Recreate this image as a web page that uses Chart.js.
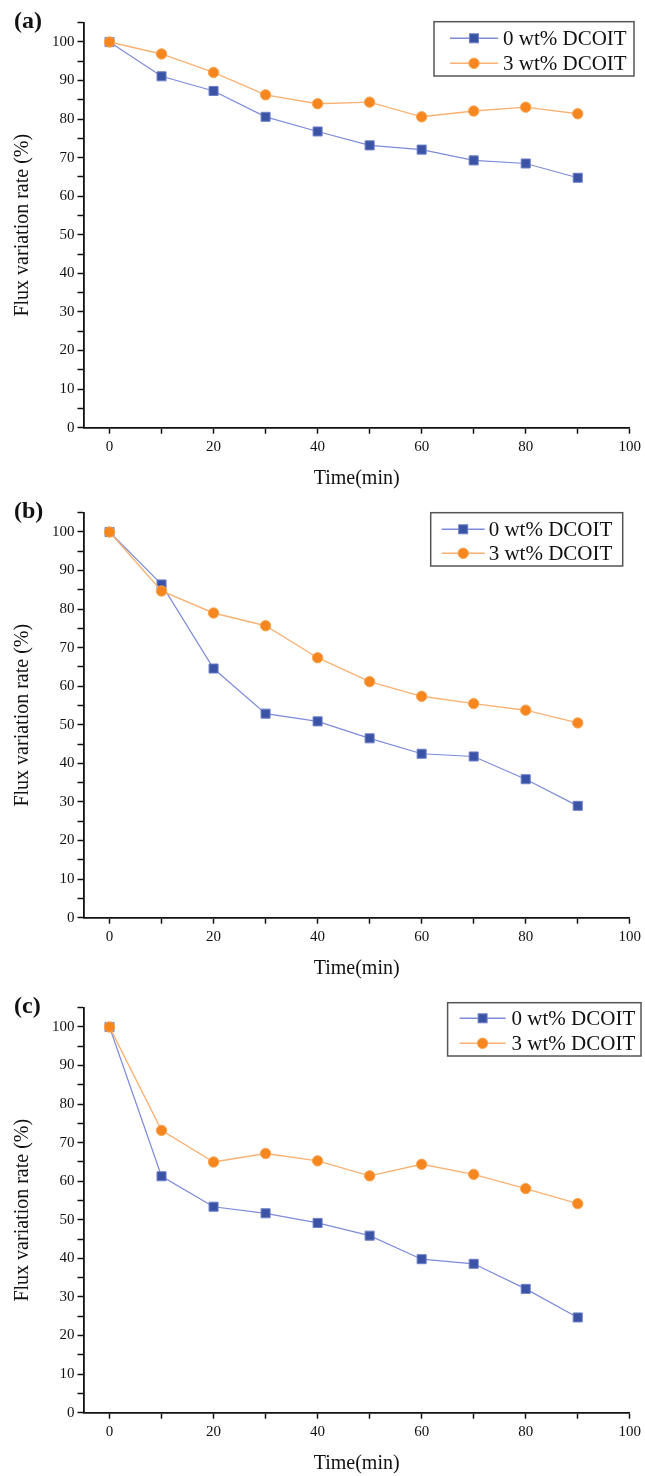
<!DOCTYPE html>
<html>
<head>
<meta charset="utf-8">
<script src="https://cdn.jsdelivr.net/npm/chart.js@4/dist/chart.umd.min.js"></script>
<style>
  html, body { margin: 0; padding: 0; background: #fff; }
  body { width: 645px; height: 1476px; position: relative; overflow: hidden; }
  .panel { position: absolute; left: 0; width: 645px; height: 490px; }
</style>
</head>
<body>
<div class="panel" style="top:0px"><canvas id="chartA" width="645" height="490"></canvas></div>
<div class="panel" style="top:490px"><canvas id="chartB" width="645" height="490"></canvas></div>
<div class="panel" style="top:985px"><canvas id="chartC" width="645" height="490"></canvas></div>
<script>
// time points (min)
const times = [0, 10, 20, 30, 40, 50, 60, 70, 80, 90];

// flux variation rate (%)
const fluxA0 = [100, 91.1, 87.3, 80.6, 76.8, 73.2, 72.1, 69.3, 68.5, 64.8];
const fluxA3 = [100, 96.9, 92.1, 86.3, 84.0, 84.4, 80.6, 82.1, 83.1, 81.4];
const fluxB0 = [100, 86.4, 64.6, 52.9, 50.9, 46.5, 42.5, 41.8, 35.9, 29.0];
const fluxB3 = [100, 84.7, 79.0, 75.7, 67.4, 61.2, 57.4, 55.5, 53.8, 50.5];
const fluxC0 = [100, 61.3, 53.4, 51.7, 49.2, 45.9, 39.8, 38.6, 32.1, 24.7];
const fluxC3 = [100, 73.2, 65.0, 67.2, 65.3, 61.4, 64.4, 61.8, 58.1, 54.2];

const seriesLabels = ['0 wt% DCOIT', '3 wt% DCOIT'];
const panelLabels = ['(a)', '(b)', '(c)'];
const xLabelStep = 20;   // only every 20 min labelled, minor ticks at 10
const yLabelStep = 10;   // labels every 10, minor ticks at 5

const SERIF = '"Liberation Serif", "Times New Roman", serif';
const INK = '#111';

const blue = { fill: '#3A53A4', edge: '#6F80C8', line: '#7D8BDA' };
const orange = { fill: '#F6861F', edge: '#F9A551', line: '#F9B274' };

// panel letter + boxed legend drawn inside the plot
function decoPlugin(label, box) {
  return {
    id: 'deco',
    afterDraw(chart) {
      const ctx = chart.ctx;
      ctx.save();
      ctx.fillStyle = INK;
      ctx.font = 'bold 24px ' + SERIF;
      ctx.textAlign = 'left';
      ctx.textBaseline = 'middle';
      ctx.fillText(label, 14, 22);

      ctx.fillStyle = '#fff';
      ctx.fillRect(box.x, box.y, box.w, box.h);
      ctx.strokeStyle = '#555';
      ctx.lineWidth = 1.5;
      ctx.strokeRect(box.x, box.y, box.w, box.h);

      chart.data.datasets.forEach((ds, i) => {
        const cy = box.y + box.rows[i];
        const x0 = box.x + box.l0, x1 = box.x + box.l1;
        ctx.strokeStyle = ds.borderColor;
        ctx.lineWidth = 1.5;
        ctx.beginPath();
        ctx.moveTo(x0, cy);
        ctx.lineTo(x1, cy);
        ctx.stroke();
        const mx = (x0 + x1) / 2;
        ctx.fillStyle = ds.pointBackgroundColor;
        ctx.strokeStyle = ds.pointBorderColor;
        ctx.lineWidth = 1;
        if (ds.pointStyle === 'rect') {
          ctx.fillRect(mx - 4.5, cy - 4.5, 9, 9);
          ctx.strokeRect(mx - 4.5, cy - 4.5, 9, 9);
        } else {
          ctx.beginPath();
          ctx.arc(mx, cy, 5.2, 0, Math.PI * 2);
          ctx.fill();
          ctx.stroke();
        }
        ctx.fillStyle = INK;
        ctx.font = '21px ' + SERIF;
        ctx.textBaseline = 'middle';
        ctx.fillText(ds.label, box.x + box.tx, cy + 1);
      });
      ctx.restore();
    }
  };
}

function makePanel(id, label, vals0, vals3, box) {
  const pts = (vals) => times.map((t, i) => ({ x: t, y: vals[i] }));
  return new Chart(document.getElementById(id), {
    type: 'line',
    data: {
      datasets: [
        {
          label: seriesLabels[0],
          data: pts(vals0),
          borderColor: blue.line,
          borderWidth: 1.2,
          pointStyle: 'rect',
          pointRadius: 6.4,
          pointBackgroundColor: blue.fill,
          pointBorderColor: blue.edge,
          pointBorderWidth: 1,
          order: 1,
        },
        {
          label: seriesLabels[1],
          data: pts(vals3),
          borderColor: orange.line,
          borderWidth: 1.4,
          pointStyle: 'circle',
          pointRadius: 5.2,
          pointBackgroundColor: orange.fill,
          pointBorderColor: orange.edge,
          pointBorderWidth: 1,
          order: 0,
        },
      ],
    },
    options: {
      responsive: false,
      animation: false,
      layout: { padding: { left: 0, right: 15, top: 22.7, bottom: 0 } },
      plugins: {
        legend: { display: false },
        tooltip: { enabled: false },
        title: { display: false },
      },
      scales: {
        x: {
          type: 'linear',
          min: -5,
          max: 100,
          afterFit: (s) => { s.height = 62.3; },
          border: { color: INK, width: 1.8 },
          grid: { drawOnChartArea: false, tickLength: 6, tickColor: INK, tickWidth: 1.5 },
          ticks: {
            stepSize: 10,
            includeBounds: false,
            padding: 4,
            maxRotation: 0,
            autoSkip: false,
            color: INK,
            font: { family: SERIF, size: 15 },
            callback: (v) => (v % xLabelStep === 0 ? String(v) : ''),
          },
          title: {
            display: true,
            text: 'Time(min)',
            color: INK,
            font: { family: SERIF, size: 20, lineHeight: 1.1 },
            padding: { top: 0, bottom: 0 },
          },
        },
        y: {
          min: 0,
          max: 105,
          afterFit: (s) => { s.width = 83.5; },
          border: { color: INK, width: 1.8 },
          grid: { drawOnChartArea: false, tickLength: 6, tickColor: INK, tickWidth: 1.5 },
          ticks: {
            stepSize: 5,
            includeBounds: false,
            padding: 3,
            autoSkip: false,
            color: INK,
            font: { family: SERIF, size: 15 },
            callback: (v) => (v % yLabelStep === 0 ? String(v) : ''),
          },
          title: {
            display: true,
            text: 'Flux variation rate (%)',
            color: INK,
            font: { family: SERIF, size: 20, lineHeight: 1.1 },
            padding: { top: 12, bottom: 0 },
          },
        },
      },
    },
    plugins: [decoPlugin(label, box)],
  });
}

makePanel('chartA', panelLabels[0], fluxA0, fluxA3,
  { x: 434, y: 21.7, w: 200, h: 54.3, l0: 16, l1: 64, tx: 69, rows: [16.6, 41.6] });
makePanel('chartB', panelLabels[1], fluxB0, fluxB3,
  { x: 430.7, y: 22.7, w: 192, h: 53.3, l0: 11, l1: 54, tx: 58, rows: [16.6, 40.6] });
makePanel('chartC', panelLabels[2], fluxC0, fluxC3,
  { x: 447.6, y: 17.7, w: 193.4, h: 53.3, l0: 12, l1: 58, tx: 64, rows: [15.6, 40.6] });
</script>
</body>
</html>
